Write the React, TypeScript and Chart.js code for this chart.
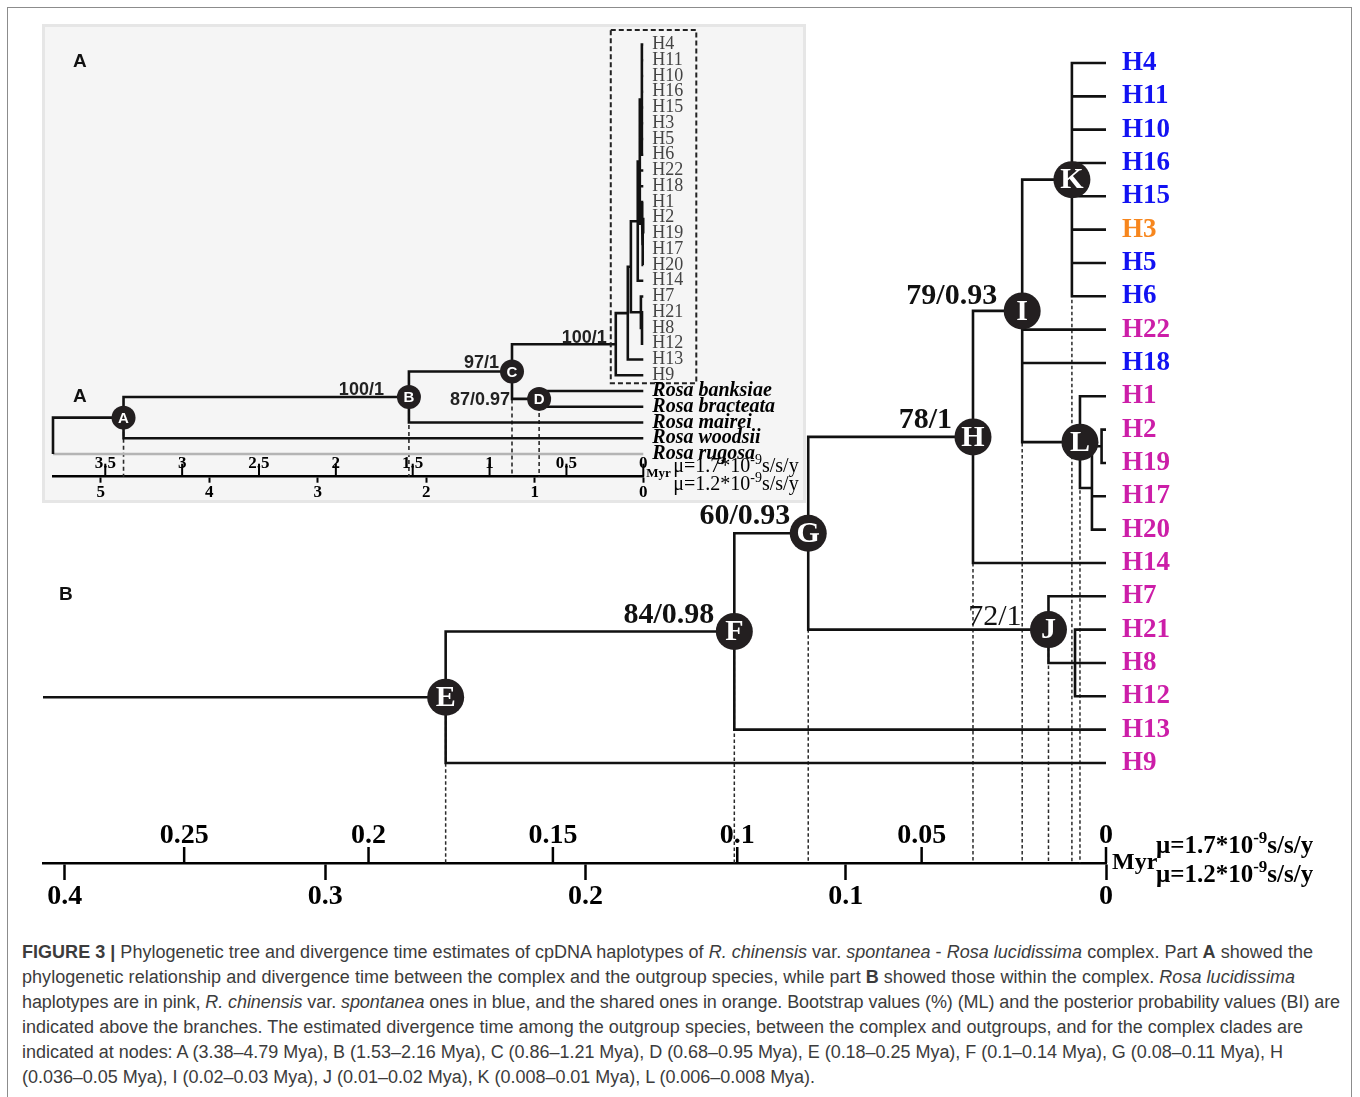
import React, { useEffect, useRef } from 'react';
import { Chart, registerables } from 'chart.js';

Chart.register(...registerables);

// ---------------- data ----------------
const tipLabels = ['H4', 'H11', 'H10', 'H16', 'H15', 'H3', 'H5', 'H6', 'H22', 'H18', 'H1', 'H2', 'H19', 'H17', 'H20', 'H14', 'H7', 'H21', 'H8', 'H12', 'H13', 'H9'];
const tipGroups = ['blue', 'blue', 'blue', 'blue', 'blue', 'orange', 'blue', 'blue', 'pink', 'blue', 'pink', 'pink', 'pink', 'pink', 'pink', 'pink', 'pink', 'pink', 'pink', 'pink', 'pink', 'pink'];
const outgroupLabels = ['Rosa banksiae', 'Rosa bracteata', 'Rosa mairei', 'Rosa woodsii', 'Rosa rugosa'];

// internal nodes of the complex: ages in Myr (μ=1.2*10^-9 scale)
const ingroupNodeNames = ['E', 'F', 'G', 'H', 'I', 'J', 'K', 'L', 'M', 'N', 'P'];
const ingroupNodeAges = [0.2537, 0.1428, 0.1144, 0.0511, 0.0322, 0.0221, 0.0131, 0.01, 0.0054, 0.0017, 0.0119];
const ingroupChildren = [
  ['F', 'H9'], ['G', 'H13'], ['H', 'J'], ['I', 'H14'], ['K', 'H22', 'H18', 'L'], ['H7', 'P'],
  ['H4', 'H11', 'H10', 'H16', 'H15', 'H3', 'H5', 'H6'], ['H1', 'M'], ['N', 'H17', 'H20'], ['H2', 'H19'], ['H21', 'H8', 'H12'],
];
// outgroup nodes (panel A)
const outgroupNodeNames = ['R', 'A', 'B', 'C', 'D'];
const outgroupNodeAges = [5.44, 4.79, 2.16, 1.21, 0.96];
const outgroupChildren = [['A', 'Rosa rugosa'], ['B', 'Rosa woodsii'], ['C', 'Rosa mairei'], ['E', 'D'], ['Rosa banksiae', 'Rosa bracteata']];

const circledNodesB = ['E', 'F', 'G', 'H', 'I', 'J', 'K', 'L'];
const circledNodesA = ['A', 'B', 'C', 'D'];
const supportNodesB = ['I', 'H', 'G', 'F', 'J'];
const supportValuesB = ['79/0.93', '78/1', '60/0.93', '84/0.98', '72/1'];
const supportNodesA = ['B', 'C', 'D', 'E'];
const supportValuesA = ['100/1', '97/1', '87/0.97', '100/1'];

const ticksB12 = [0, 0.1, 0.2, 0.3, 0.4];
const ticksB17 = [0, 0.05, 0.1, 0.15, 0.2, 0.25];
const ticksA12 = [0, 1, 2, 3, 4, 5];
const ticksA17 = [0, 0.5, 1, 1.5, 2, 2.5, 3, 3.5];
const rateLow = 1.2;
const rateHigh = 1.7;
const treeSpanB = 0.4084; // left end of panel B time axis (Myr, μ=1.2)

// ---------------- styles / layout ----------------
const SERIF = '"Liberation Serif", "DejaVu Serif", serif';
const SANS = '"Liberation Sans", Arial, sans-serif';
const groupColor: Record<string, string> = { blue: '#1212f2', orange: '#f7861d', pink: '#cc1ea8' };
const grayTips = ['Rosa rugosa'];
const supportStyleB: Record<string, { dx: number; dy: number; weight: string }> = {
  I: { dx: -25, dy: -7, weight: 'bold' },
  H: { dx: -21, dy: -9, weight: 'bold' },
  G: { dx: -18, dy: -9, weight: 'bold' },
  F: { dx: -20, dy: -8, weight: 'bold' },
  J: { dx: -27, dy: -5, weight: 'normal' },
};
const supportStyleA: Record<string, { dx: number; dy: number }> = {
  B: { dx: -25, dy: -2 },
  C: { dx: -13, dy: -3.5 },
  D: { dx: -29, dy: 6 },
  E: { dx: -9, dy: -1 },
};
const captionLeft = 22;
const captionLineEnds = [1313, 1295, 1340, 1303, 1283, 815];

type P = { x: number | null; y: number | null };

function layoutTree(names: string[], ages: number[], children: string[][], tips: string[]) {
  const pos: Record<string, { x: number; y: number }> = {};
  tips.forEach((t, i) => { pos[t] = { x: 0, y: i }; });
  const idx: Record<string, number> = {};
  names.forEach((n, i) => { idx[n] = i; });
  const place = (n: string): number => {
    if (pos[n]) return pos[n].y;
    const ys = children[idx[n]].map(place);
    const y = (ys[0] + ys[ys.length - 1]) / 2;
    pos[n] = { x: ages[idx[n]], y };
    return y;
  };
  names.forEach(place);
  return pos;
}

function buildBranches(names: string[], children: string[][], pos: Record<string, { x: number; y: number }>) {
  const black: P[] = [];
  const gray: P[] = [];
  names.forEach((n, i) => {
    const p = pos[n];
    children[i].forEach((c) => {
      const q = pos[c];
      if (grayTips.includes(c)) {
        black.push({ x: p.x, y: p.y }, { x: p.x, y: q.y }, { x: null, y: null });
        gray.push({ x: p.x, y: q.y }, { x: q.x, y: q.y }, { x: null, y: null });
      } else {
        black.push({ x: p.x, y: p.y }, { x: p.x, y: q.y }, { x: q.x, y: q.y }, { x: null, y: null });
      }
    });
  });
  return { black, gray };
}

function txt(ctx: CanvasRenderingContext2D, s: string, x: number, y: number, font: string, color: string, align: CanvasTextAlign = 'left', base: CanvasTextBaseline = 'alphabetic') {
  ctx.save();
  ctx.font = font;
  ctx.fillStyle = color;
  ctx.textAlign = align;
  ctx.textBaseline = base;
  ctx.fillText(s, x, y);
  ctx.restore();
}

function drawRate(ctx: CanvasRenderingContext2D, rate: string, x: number, baseline: number, size: number, bold: boolean) {
  const w = bold ? 'bold ' : '';
  ctx.save();
  ctx.fillStyle = '#000';
  ctx.textAlign = 'left';
  ctx.textBaseline = 'alphabetic';
  ctx.font = `${w}${size}px ${SERIF}`;
  const a = `\u03bc=${rate}*10`;
  ctx.fillText(a, x, baseline);
  let cx = x + ctx.measureText(a).width;
  ctx.font = `${w}${Math.round(size * 0.68)}px ${SERIF}`;
  ctx.fillText('-9', cx, baseline - size * 0.42);
  cx += ctx.measureText('-9').width;
  ctx.font = `${w}${size}px ${SERIF}`;
  ctx.fillText('s/s/y', cx, baseline);
  ctx.restore();
}

const hiddenAxis = (extra: any) => ({ type: 'linear', display: false, ticks: { display: false }, grid: { display: false }, border: { display: false }, ...extra });

// ---------------- panel B ----------------
const B_W = 1360, B_H = 935;
const B_PAD_L = 43, B_PAD_R = 1360 - 1106, B_PAD_T = 8;
const B_AXIS_Y = 863, B_AXIS_H = 50;
const B_ROW0 = 63, B_ROW_STEP = 33.33;

function configB(): any {
  const pos = layoutTree(ingroupNodeNames, ingroupNodeAges, ingroupChildren, tipLabels);
  const { black } = buildBranches(ingroupNodeNames, ingroupChildren, pos);
  const root = pos['E'];
  black.push({ x: treeSpanB, y: root.y }, { x: root.x, y: root.y }, { x: null, y: null });
  const yMin = -(B_ROW0 - B_PAD_T) / B_ROW_STEP;
  const yMax = (B_AXIS_Y - B_ROW0) / B_ROW_STEP;
  const dash: P[] = [];
  circledNodesB.forEach((n) => { dash.push({ x: pos[n].x, y: pos[n].y }, { x: pos[n].x, y: yMax }, { x: null, y: null }); });
  const circles = circledNodesB.map((n) => ({ x: pos[n].x, y: pos[n].y }));

  const plugin = {
    id: 'treeTextB',
    afterDatasetsDraw(chart: any) {
      const ctx: CanvasRenderingContext2D = chart.ctx;
      const { x, x2, y } = chart.scales;
      const ay = chart.chartArea.bottom;
      // upper time scale (μ=1.7)
      ctx.save();
      ctx.strokeStyle = '#000';
      ctx.lineWidth = 2.5;
      ticksB17.forEach((v) => {
        const px = x2.getPixelForValue(v);
        ctx.beginPath();
        ctx.moveTo(px, ay);
        ctx.lineTo(px, ay - 16);
        ctx.stroke();
        txt(ctx, String(v), px, ay - 20, `bold 28px ${SERIF}`, '#000', 'center');
      });
      ctx.restore();
      const x0 = x.getPixelForValue(0);
      txt(ctx, 'Myr', x0 + 6, ay, `bold 24px ${SERIF}`, '#000', 'left', 'middle');
      drawRate(ctx, rateHigh.toFixed(1), x0 + 50, ay - 10, 25, true);
      drawRate(ctx, rateLow.toFixed(1), x0 + 50, ay + 19, 25, true);
      // tips
      tipLabels.forEach((t, i) => {
        txt(ctx, t, x0 + 16, y.getPixelForValue(i), `bold 27px ${SERIF}`, groupColor[tipGroups[i]], 'left', 'middle');
      });
      // node letters
      circledNodesB.forEach((n) => {
        txt(ctx, n, x.getPixelForValue(pos[n].x), y.getPixelForValue(pos[n].y) + 1, `bold 30px ${SERIF}`, '#fff', 'center', 'middle');
      });
      // support values
      supportNodesB.forEach((n, i) => {
        const st = supportStyleB[n];
        txt(ctx, supportValuesB[i], x.getPixelForValue(pos[n].x) + st.dx, y.getPixelForValue(pos[n].y) + st.dy, `${st.weight} 30px ${SERIF}`, '#111', 'right');
      });
      txt(ctx, 'B', 59, 600, `bold 19px ${SANS}`, '#111');
    },
  };

  return {
    type: 'scatter',
    data: {
      datasets: [
        { data: dash, showLine: true, borderColor: '#2a2a2a', borderWidth: 1.5, borderDash: [3.5, 2.5], pointRadius: 0, order: 3, clip: false },
        { data: black, showLine: true, borderColor: '#111', borderWidth: 2.6, pointRadius: 0, order: 2, clip: false, borderJoinStyle: 'miter' },
        { data: circles, showLine: false, pointRadius: 18.5, backgroundColor: '#231f20', borderColor: '#231f20', borderWidth: 0, order: 1, clip: false },
      ],
    },
    options: {
      animation: false,
      responsive: false,
      devicePixelRatio: 1,
      events: [],
      layout: { autoPadding: false, padding: { left: B_PAD_L, right: B_PAD_R, top: B_PAD_T, bottom: B_H - B_AXIS_Y - B_AXIS_H } },
      plugins: { legend: { display: false }, tooltip: { enabled: false } },
      scales: {
        x: {
          type: 'linear', reverse: true, min: 0, max: treeSpanB, position: 'bottom',
          afterBuildTicks: (s: any) => { s.ticks = ticksB12.map((v) => ({ value: v })); },
          afterFit: (s: any) => { s.height = B_AXIS_H; },
          ticks: { font: { family: SERIF, size: 28, weight: 'bold' }, color: '#000', padding: 0, maxRotation: 0, autoSkip: false, callback: (v: any) => String(v) },
          grid: { display: true, drawOnChartArea: false, drawTicks: true, tickLength: 17, tickWidth: 2.5, tickColor: '#000' },
          border: { display: true, color: '#000', width: 2.5 },
        },
        x2: hiddenAxis({ axis: 'x', position: 'bottom', reverse: true, min: 0, max: (treeSpanB * rateLow) / rateHigh }),
        y: hiddenAxis({ axis: 'y', position: 'left', reverse: true, min: yMin, max: yMax }),
      },
    },
    plugins: [plugin],
  };
}

// ---------------- panel A ----------------
const A_LEFT = 42, A_TOP = 24, A_W = 764, A_H = 479;
const A_PAD_L = 11, A_PAD_R = 162.7, A_PAD_T = 4;
const A_AXIS_Y = 452.7, A_AXIS_H = 24;
const A_ROW0 = 20.5, A_ROW_STEP = 15.75;

function configA(): any {
  const names = [...outgroupNodeNames, ...ingroupNodeNames];
  const ages = [...outgroupNodeAges, ...ingroupNodeAges];
  const children = [...outgroupChildren, ...ingroupChildren];
  const tips = [...tipLabels, ...outgroupLabels];
  const pos = layoutTree(names, ages, children, tips);
  const { black, gray } = buildBranches(names, children, pos);
  const yMin = -(A_ROW0 - A_PAD_T) / A_ROW_STEP;
  const yMax = (A_AXIS_Y - A_ROW0) / A_ROW_STEP;
  const dash: P[] = [];
  circledNodesA.forEach((n) => { dash.push({ x: pos[n].x, y: pos[n].y }, { x: pos[n].x, y: yMax }, { x: null, y: null }); });
  const circles = circledNodesA.map((n) => ({ x: pos[n].x, y: pos[n].y }));
  const span = outgroupNodeAges[0];

  const plugin = {
    id: 'treeTextA',
    afterDatasetsDraw(chart: any) {
      const ctx: CanvasRenderingContext2D = chart.ctx;
      const { x, x2, y } = chart.scales;
      const ay = chart.chartArea.bottom;
      ctx.save();
      ctx.strokeStyle = '#000';
      ctx.lineWidth = 2;
      ticksA17.forEach((v) => {
        const px = x2.getPixelForValue(v);
        ctx.beginPath();
        ctx.moveTo(px, ay);
        ctx.lineTo(px, ay - 13);
        ctx.stroke();
        txt(ctx, String(v), px, ay - 8.5, `bold 17px ${SERIF}`, '#000', 'center');
      });
      ctx.restore();
      const x0 = x.getPixelForValue(0);
      txt(ctx, 'Myr', x0 + 3, ay, `bold 13px ${SERIF}`, '#000', 'left');
      drawRate(ctx, rateHigh.toFixed(1), x0 + 30, ay - 4.5, 20, false);
      drawRate(ctx, rateLow.toFixed(1), x0 + 30, ay + 13.5, 20, false);
      // dashed box around the complex
      ctx.save();
      ctx.strokeStyle = '#222';
      ctx.lineWidth = 2;
      ctx.setLineDash([5, 3]);
      const bl = x.getPixelForValue(pos['E'].x) - 5;
      const bt = y.getPixelForValue(-0.92);
      const bb = y.getPixelForValue(tipLabels.length - 0.5);
      ctx.strokeRect(bl, bt, x0 + 53 - bl, bb - bt);
      ctx.restore();
      tipLabels.forEach((t, i) => {
        txt(ctx, t, x0 + 9, y.getPixelForValue(i), `18px ${SERIF}`, '#444', 'left', 'middle');
      });
      outgroupLabels.forEach((t, i) => {
        txt(ctx, t, x0 + 9, y.getPixelForValue(tipLabels.length + i), `italic bold 20px ${SERIF}`, '#000', 'left', 'middle');
      });
      circledNodesA.forEach((n) => {
        txt(ctx, n, x.getPixelForValue(pos[n].x), y.getPixelForValue(pos[n].y) + 1, `bold 15px ${SANS}`, '#fff', 'center', 'middle');
      });
      supportNodesA.forEach((n, i) => {
        const st = supportStyleA[n];
        txt(ctx, supportValuesA[i], x.getPixelForValue(pos[n].x) + st.dx, y.getPixelForValue(pos[n].y) + st.dy, `bold 18px ${SANS}`, '#222', 'right');
      });
      txt(ctx, 'A', 31, 43, `bold 19px ${SANS}`, '#111');
      txt(ctx, 'A', 31, 378, `bold 19px ${SANS}`, '#111');
    },
  };

  return {
    type: 'scatter',
    data: {
      datasets: [
        { data: dash, showLine: true, borderColor: '#2a2a2a', borderWidth: 1.6, borderDash: [4, 3], pointRadius: 0, order: 4, clip: false },
        { data: gray, showLine: true, borderColor: '#b4b4b4', borderWidth: 2.6, pointRadius: 0, order: 3, clip: false },
        { data: black, showLine: true, borderColor: '#111', borderWidth: 2.6, pointRadius: 0, order: 2, clip: false, borderJoinStyle: 'miter' },
        { data: circles, showLine: false, pointRadius: 12, backgroundColor: '#231f20', borderColor: '#231f20', borderWidth: 0, order: 1, clip: false },
      ],
    },
    options: {
      animation: false,
      responsive: false,
      devicePixelRatio: 1,
      events: [],
      layout: { autoPadding: false, padding: { left: A_PAD_L, right: A_PAD_R, top: A_PAD_T, bottom: A_H - A_AXIS_Y - A_AXIS_H } },
      plugins: { legend: { display: false }, tooltip: { enabled: false } },
      scales: {
        x: {
          type: 'linear', reverse: true, min: 0, max: span, position: 'bottom',
          afterBuildTicks: (s: any) => { s.ticks = ticksA12.map((v) => ({ value: v })); },
          afterFit: (s: any) => { s.height = A_AXIS_H; },
          ticks: { font: { family: SERIF, size: 17, weight: 'bold' }, color: '#000', padding: 0, maxRotation: 0, autoSkip: false, callback: (v: any) => String(v) },
          grid: { display: true, drawOnChartArea: false, drawTicks: true, tickLength: 6, tickWidth: 2, tickColor: '#000' },
          border: { display: true, color: '#000', width: 2.5 },
        },
        x2: hiddenAxis({ axis: 'x', position: 'bottom', reverse: true, min: 0, max: (span * rateLow) / rateHigh }),
        y: hiddenAxis({ axis: 'y', position: 'left', reverse: true, min: yMin, max: yMax }),
      },
    },
    plugins: [plugin],
  };
}

const captionLines: React.ReactNode[] = [
  <><b>FIGURE 3 |</b> Phylogenetic tree and divergence time estimates of cpDNA haplotypes of <i>R. chinensis</i> var. <i>spontanea</i> - <i>Rosa lucidissima</i> complex. Part <b>A</b> showed the</>,
  <>phylogenetic relationship and divergence time between the complex and the outgroup species, while part <b>B</b> showed those within the complex. <i>Rosa lucidissima</i></>,
  <>haplotypes are in pink, <i>R. chinensis</i> var. <i>spontanea</i> ones in blue, and the shared ones in orange. Bootstrap values (%) (ML) and the posterior probability values (BI) are</>,
  <>indicated above the branches. The estimated divergence time among the outgroup species, between the complex and outgroups, and for the complex clades are</>,
  <>indicated at nodes: A (3.38–4.79 Mya), B (1.53–2.16 Mya), C (0.86–1.21 Mya), D (0.68–0.95 Mya), E (0.18–0.25 Mya), F (0.1–0.14 Mya), G (0.08–0.11 Mya), H</>,
  <>(0.036–0.05 Mya), I (0.02–0.03 Mya), J (0.01–0.02 Mya), K (0.008–0.01 Mya), L (0.006–0.008 Mya).</>,
];

export default function App() {
  const refB = useRef<HTMLCanvasElement>(null);
  const refA = useRef<HTMLCanvasElement>(null);
  const capRefs = useRef<(HTMLSpanElement | null)[]>([]);
  useEffect(() => {
    const cB = new Chart(refB.current as HTMLCanvasElement, configB());
    const cA = new Chart(refA.current as HTMLCanvasElement, configA());
    capRefs.current.forEach((s, i) => {
      if (!s) return;
      const w = s.getBoundingClientRect().width;
      const n = (s.textContent || '').length;
      const target = captionLineEnds[i] - captionLeft;
      s.style.letterSpacing = `${(target - w) / Math.max(n, 1)}px`;
    });
    return () => { cB.destroy(); cA.destroy(); };
  }, []);
  return (
    <div style={{ position: 'fixed', left: 0, top: 0, width: 1360, height: 1097, overflow: 'hidden', background: '#fff' }}>
      <div style={{ position: 'absolute', left: 7, top: 7, width: 1343, height: 1100, borderLeft: '1.5px solid #8c8c8c', borderRight: '1.5px solid #8c8c8c', borderTop: '1.5px solid #8c8c8c' }} />
      <canvas ref={refB} width={B_W} height={B_H} style={{ position: 'absolute', left: 0, top: 0, width: B_W, height: B_H }} />
      <div style={{ position: 'absolute', left: A_LEFT, top: A_TOP, width: A_W, height: A_H, boxSizing: 'border-box', background: '#f5f5f5', border: '3px solid #e6e6e6' }} />
      <canvas ref={refA} width={A_W} height={A_H} style={{ position: 'absolute', left: A_LEFT, top: A_TOP, width: A_W, height: A_H }} />
      <div style={{ position: 'absolute', left: captionLeft, top: 940, fontFamily: SANS, fontSize: 18, lineHeight: '25px', color: '#3c3c3c', whiteSpace: 'nowrap' }}>
        {captionLines.map((l, i) => (
          <div key={i}><span ref={(el) => { capRefs.current[i] = el; }}>{l}</span></div>
        ))}
      </div>
    </div>
  );
}
